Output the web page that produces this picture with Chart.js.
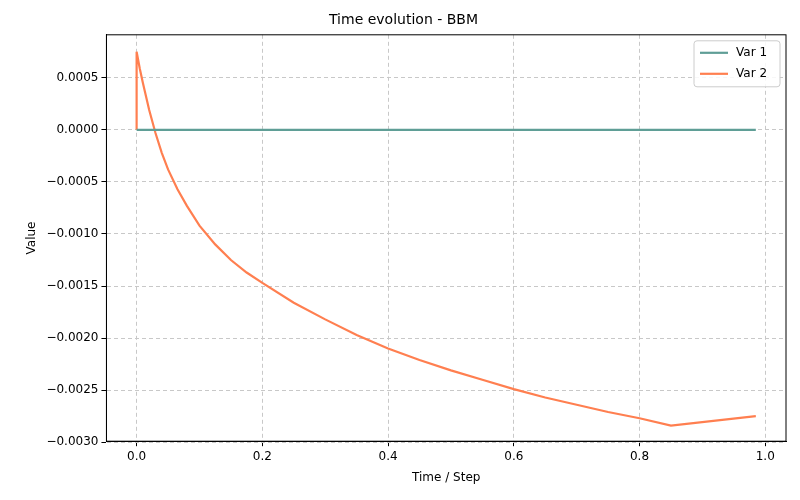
<!DOCTYPE html>
<html><head><script src="https://cdn.jsdelivr.net/npm/chart.js"></script>
<style>body{margin:0;background:#fff}#w{width:800px;height:500px}</style></head>
<body><div id="w"><canvas id="c"></canvas></div>
<script>
const var1X=[0,0.985];
const var1Y=[0,0];
const var2X=[0,0,0.005,0.01,0.02,0.03,0.04,0.05,0.065,0.08,0.1,0.125,0.15,0.175,0.2,0.25,0.3,0.35,0.4,0.45,0.5,0.55,0.6,0.65,0.7,0.75,0.8,0.85,0.985];
const var2Y=[0,0.00075,0.00059,0.00045,0.00019,-0.00003,-0.00022,-0.00038,-0.00057,-0.00073,-0.00092,-0.0011,-0.00125,-0.00137,-0.00147,-0.00166,-0.00182,-0.00197,-0.0021,-0.00221,-0.00231,-0.0024,-0.00249,-0.00257,-0.00264,-0.00271,-0.00277,-0.00284,-0.00275];
const seriesNames=['Var 1','Var 2'];
const colors=['#5f9e96','#ff7f50'];
const font={family:'DejaVu Sans',size:12};
const fmtY=v=>(v<0?'\u2212':'')+Math.abs(v).toFixed(4);
const legendPlugin={id:'lg',afterDraw(ch){const a=ch.chartArea,c=ch.ctx;
c.save();c.strokeStyle='#000';c.lineWidth=1;c.strokeRect(a.left,a.top,a.right-a.left,a.bottom-a.top);
const w=86,h=46,x=a.right-w-6,y=a.top+6;
c.fillStyle='rgba(255,255,255,0.85)';c.strokeStyle='#ccc';c.beginPath();c.roundRect(x,y,w,h,3);c.fill();c.stroke();
c.font='12px DejaVu Sans';c.textBaseline='middle';
seriesNames.forEach((n,i)=>{const yy=y+12+i*21;c.strokeStyle=colors[i];c.lineWidth=2.2;c.beginPath();c.moveTo(x+6,yy);c.lineTo(x+34,yy);c.stroke();c.fillStyle='#000';c.fillText(n,x+42,yy);});c.restore();}};
new Chart(document.getElementById('c'),{type:'line',
data:{datasets:[
{label:seriesNames[0],data:var1X.map((x,i)=>({x,y:var1Y[i]})),borderColor:colors[0],borderWidth:2.2,pointRadius:0,fill:false},
{label:seriesNames[1],data:var2X.map((x,i)=>({x,y:var2Y[i]})),borderColor:colors[1],borderWidth:2.2,pointRadius:0,fill:false,tension:0}]},
options:{responsive:true,maintainAspectRatio:false,animation:false,
layout:{padding:{left:21,right:14,top:8,bottom:11}},
plugins:{legend:{display:false},title:{display:true,text:'Time evolution - BBM',color:'#000',font:{family:'DejaVu Sans',size:14,weight:'normal'},padding:{top:4,bottom:6}}},
scales:{
x:{type:'linear',min:-0.048,max:1.033,afterBuildTicks(s){s.ticks=[0,0.2,0.4,0.6,0.8,1.0].map(v=>({value:v}));},
ticks:{color:'#000',font,callback:v=>v.toFixed(1),maxRotation:0},
grid:{color:'#c8c8c8',tickColor:'#000',tickLength:5},border:{color:'#000',dash:[4,3]},
title:{display:true,text:'Time / Step',color:'#000',font}},
y:{min:-0.00299,max:0.000913,afterBuildTicks(s){const t=[];for(let v=-0.003;v<=0.0005+1e-9;v+=0.0005)t.push({value:Math.round(v*1e4)/1e4});s.ticks=t;},
ticks:{color:'#000',font,callback:fmtY},
grid:{color:'#c8c8c8',tickColor:'#000',tickLength:5},border:{color:'#000',dash:[4,3]},
title:{display:true,text:'Value',color:'#000',font}}}},
plugins:[legendPlugin]});
</script></body></html>
